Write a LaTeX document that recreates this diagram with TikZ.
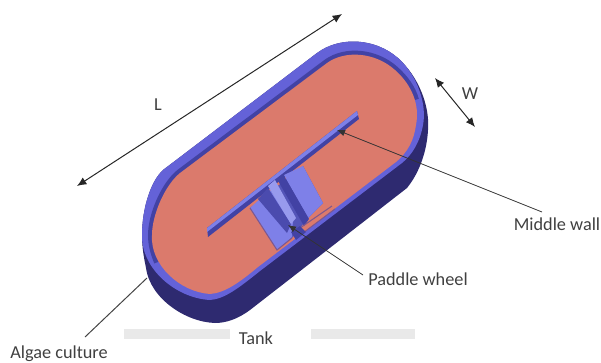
\documentclass[tikz,border=0pt]{standalone}
\usepackage{fontspec}
\setmainfont{Carlito}
\usetikzlibrary{arrows.meta}
\definecolor{pinkc}{HTML}{DB7A6C}
\definecolor{lipc}{HTML}{6462D8}
\definecolor{darkc}{HTML}{2E2A70}
\definecolor{midc}{HTML}{7E80E8}
\definecolor{wallc}{HTML}{4242A4}
\definecolor{barc}{HTML}{E9E9E9}
\definecolor{linec}{HTML}{444444}
\tikzset{
  lbl/.style={font=\fontsize{13.7pt}{15pt}\selectfont,text=black!75,inner sep=0pt},
  lead/.style={draw=linec,line width=0.75pt},
  dim/.style={draw=black!85,line width=0.75pt,{Latex[length=7pt,width=6pt]}-{Latex[length=7pt,width=6pt]}},
  tipped/.style={draw=black!80,line width=0.6pt,-{Latex[length=6pt,width=5pt]}},
}
\begin{document}
\begin{tikzpicture}[x=0.75pt,y=-0.75pt]
\useasboundingbox (0,0) rectangle (601,362);
% bars
\fill[barc] (124,329) rectangle (230,339);
\fill[barc] (311,329) rectangle (415,339);
% side body
\fill[darkc] (163,170) -- (317,53) .. controls (340,36) and (375,38) .. (398,58) .. controls (418,76) and (430,105) .. (428,130) .. controls (427,150) and (420,172) .. (407,188) -- (250,310) .. controls (238,319) and (226,323) .. (215,323) .. controls (185,322) and (150,298) .. (146,268) .. controls (144,258) and (142,248) .. (142,235) .. controls (142,210) and (150,182) .. (163,170) -- cycle;
% lip outer
\fill[lipc] (163,170) -- (317,53) .. controls (340,36) and (375,38) .. (398,58) .. controls (418,76) and (427,105) .. (423,125) .. controls (420,142) and (412,155) .. (402,163) -- (260,271) .. controls (240,287) and (225,299) .. (210,300) .. controls (175,298) and (141,268) .. (142,235) .. controls (142,210) and (150,182) .. (163,170) -- cycle;
% darker stripe of the lip, along the upper side
\draw[wallc,line width=6pt] (158,262) .. controls (154,252) and (152,244) .. (152,235) .. controls (152,215) and (165,185) .. (180,173) -- (327,63) .. controls (345,50) and (375,52) .. (395,70) .. controls (405,79) and (412,89) .. (415,100);
% pink
\fill[pinkc] (180,173) -- (327,63) .. controls (345,50) and (375,52) .. (395,70) .. controls (412,85) and (420,105) .. (416,125) .. controls (414,140) and (408,152) .. (396,162) -- (258,267) .. controls (240,282) and (225,293) .. (210,294) .. controls (180,292) and (150,265) .. (152,235) .. controls (152,215) and (165,185) .. (180,173) -- cycle;
% paddle base
\fill[wallc!70!midc] (250,208) -- (303,166) -- (323,203) -- (308,218) -- (292,238) -- (277,250) -- cycle;
% middle wall
\fill[wallc] (207,228) -- (357,111) -- (359,119) -- (208,237) -- cycle;
\fill[midc] (207,228) -- (357,111) -- (358,115) -- (207,232) -- cycle;
% paddle blades
\fill[midc] (250,208) -- (270,190) -- (293,220) -- (292,237) -- (277,250) -- cycle;
\fill[wallc!85!midc] (258,199) -- (268,188) -- (291,224) -- (287,233) -- cycle;
\draw[wallc!60!pinkc,line width=0.8pt] (250,208) -- (277,250) -- (292,238);
\fill[midc] (284,175) -- (303,166) -- (323,203) -- (308,218) -- cycle;
\fill[wallc] (277,179) -- (283,174) -- (309,219) -- (304,226) -- cycle;
\fill[midc!80!white] (268,186) -- (275,180) -- (296,218) -- (291,224) -- cycle;
\draw[wallc!60!pinkc,line width=0.8pt] (300,228) -- (332,206);
\draw[wallc!60!pinkc,line width=0.8pt] (303,233) -- (335,209);
\fill[wallc] (291,232) -- (300,226) -- (306,232) -- (296,240) -- cycle;
% named ends
\coordinate (Lb) at (77,186);
\coordinate (Le) at (342,14);
\coordinate (Wb) at (435,78);
\coordinate (We) at (475,127);
\coordinate (mwt) at (337,130);
\coordinate (mws) at (542,212);
\coordinate (pwt) at (288,225);
\coordinate (pws) at (363,275);
\coordinate (agt) at (147,278);
\coordinate (ags) at (85,337);
\draw[dim] (Lb) -- (Le);
\draw[dim] (Wb) -- (We);
\draw[tipped] (mws) -- (mwt);
\draw[tipped] (pws) -- (pwt);
\draw[lead] (ags) -- (agt);
% labels
\node[lbl] (tL) at (158,105) {L};
\node[lbl] (tW) at (470,94) {W};
\node[lbl] (tM) at (557,224) {Middle wall};
\node[lbl] (tP) at (418,279) {Paddle wheel};
\node[lbl] (tT) at (256,338) {Tank};
\node[lbl] (tA) at (59,354) {Algae culture};
\end{tikzpicture}
\end{document}
